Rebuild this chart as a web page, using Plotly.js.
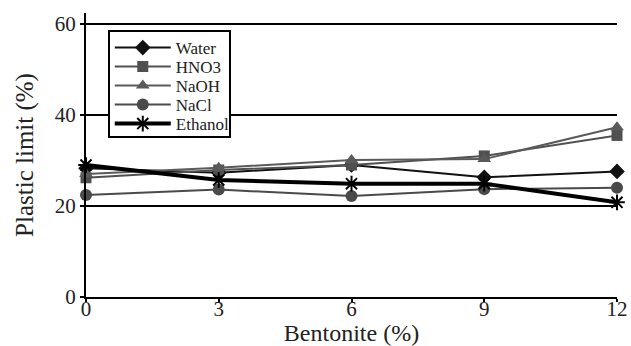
<!DOCTYPE html>
<html>
<head>
<meta charset="utf-8">
<script src="https://cdn.plot.ly/plotly-3.0.1.min.js"></script>
<style>html,body{margin:0;padding:0;background:#fff;}#chart{width:631px;height:346px;}</style>
</head>
<body>
<div id="chart"></div>
<script>
const bentonite = [0, 3, 6, 9, 12];
const water   = [28.3, 27.3, 29.0, 26.3, 27.6];
const hno3    = [26.2, 27.9, 29.0, 31.0, 35.5];
const naoh    = [27.0, 28.4, 30.1, 30.3, 37.3];
const nacl    = [22.4, 23.6, 22.2, 23.7, 24.0];
const ethanol = [29.0, 25.7, 24.9, 24.9, 20.8];
const seriesNames = ["Water", "HNO3", "NaOH", "NaCl", "Ethanol"];
const xTicks = [0, 3, 6, 9, 12];
const yTicks = [0, 20, 40, 60];

const styles = [
  {color: "#111", width: 2, symbol: "diamond", size: 12},
  {color: "#505050", width: 2, symbol: "square", size: 11},
  {color: "#5a5a5a", width: 2, symbol: "triangle-up", size: 12},
  {color: "#4a4a4a", width: 2, symbol: "circle", size: 12},
  {color: "#000", width: 4, symbol: "asterisk-open", size: 13}
];
const allY = [water, hno3, naoh, nacl, ethanol];
const traces = allY.map((ys, i) => ({
  x: bentonite, y: ys, name: seriesNames[i], type: "scatter", mode: "lines+markers",
  cliponaxis: false,
  line: {color: styles[i].color, width: styles[i].width},
  marker: {symbol: styles[i].symbol, size: styles[i].size, color: styles[i].color,
           line: {color: styles[i].color, width: i === 4 ? 2 : 0}}
}));

const serif = "'Liberation Serif', 'Times New Roman', serif";
const layout = {
  width: 631, height: 346,
  margin: {l: 86, r: 14, t: 13, b: 49},
  paper_bgcolor: "#fff", plot_bgcolor: "#fff",
  font: {family: serif, color: "#222", size: 20},
  showlegend: true,
  legend: {x: 0.041, y: 0.94, xanchor: "left", yanchor: "top",
           bordercolor: "#000", borderwidth: 2, bgcolor: "#fff",
           font: {family: serif, size: 17, color: "#222"},
           tracegroupgap: 0, itemwidth: 56},
  xaxis: {range: [0, 12], tickvals: xTicks, ticktext: xTicks.map(String),
          showline: true, linecolor: "#000", linewidth: 2,
          ticks: "outside", ticklen: 3, tickcolor: "#000", tickwidth: 2,
          ticklabelstandoff: -11,
          showgrid: false, zeroline: false,
          tickfont: {family: serif, size: 21, color: "#222"},
          title: {text: "Bentonite (%)", font: {family: serif, size: 24, color: "#222"}, standoff: 6}},
  yaxis: {range: [0, 62.4], tickvals: yTicks, ticktext: yTicks.map(String),
          showline: true, linecolor: "#000", linewidth: 2,
          ticks: "outside", ticklen: 4, tickcolor: "#000", tickwidth: 2,
          showgrid: true, gridcolor: "#000", gridwidth: 2, zeroline: false,
          tickfont: {family: serif, size: 21, color: "#222"},
          title: {text: "Plastic limit (%)", font: {family: serif, size: 25, color: "#222"}, standoff: 14}}
};
Plotly.newPlot("chart", traces, layout, {displayModeBar: false, staticPlot: true}).then(function (gd) {
  // compact the legend rows to match the reference spacing
  const leg = gd.querySelector("g.legend");
  if (!leg) return;
  const items = leg.querySelectorAll("g.traces");
  const step = 19;
  let x0 = null, y0 = null;
  items.forEach(function (it, i) {
    const m = /translate\(\s*([-\d.]+)[ ,]+([-\d.]+)\s*\)/.exec(it.getAttribute("transform") || "");
    if (!m) return;
    if (x0 === null) { x0 = parseFloat(m[1]); y0 = parseFloat(m[2]); }
    it.setAttribute("transform", "translate(" + x0 + "," + (y0 - 2 + i * step) + ")");
  });
  const bg = leg.querySelector("rect.bg");
  if (bg && y0 !== null) {
    const h = y0 - 2 + (items.length - 1) * step + 12;
    bg.setAttribute("height", h);
    bg.setAttribute("width", 121);
    bg.style.height = h + "px";
    bg.style.width = "121px";
  }
});
</script>
</body>
</html>
